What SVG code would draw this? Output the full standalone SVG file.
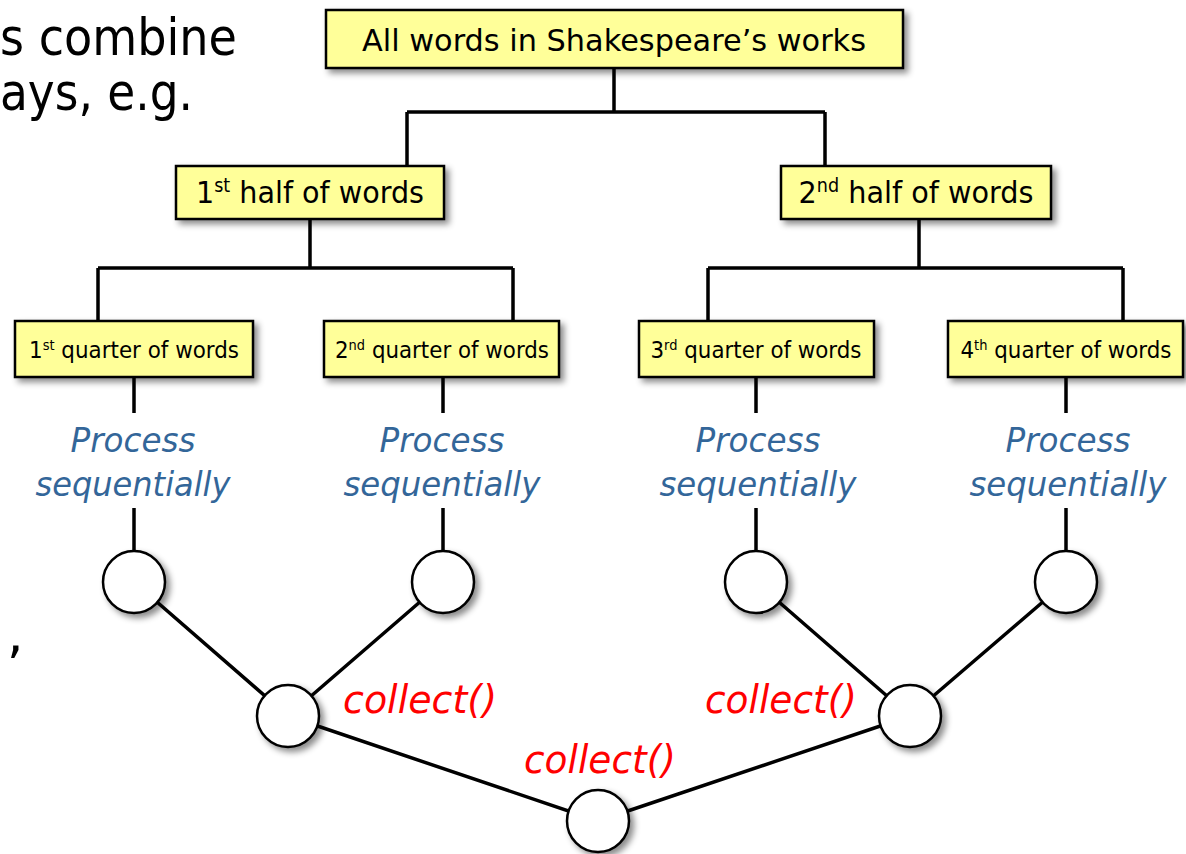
<svg xmlns="http://www.w3.org/2000/svg" width="1186" height="854" viewBox="0 0 1186 854">
  <defs>
    <filter id="shadow" x="-20%" y="-20%" width="140%" height="150%">
      <feDropShadow dx="4" dy="4" stdDeviation="3" flood-color="#000" flood-opacity="0.45"/>
    </filter>
    <style>
      .box { fill: #FFFF99; stroke: #000; stroke-width: 2.5; filter: url(#shadow); }
      .dot { fill: #fff; stroke: #000; stroke-width: 2.5; filter: url(#shadow); }
      .wire { fill: none; stroke: #000; stroke-width: 3.5; }
      .lbl { font-family: "DejaVu Sans", Verdana, sans-serif; fill: #000; text-anchor: middle; }
      .slide { font-family: "DejaVu Sans", Verdana, sans-serif; fill: #000; font-size: 52px; }
      .seq { font-family: "DejaVu Sans", Verdana, sans-serif; font-style: italic; fill: #336699; font-size: 34px; text-anchor: middle; }
      .op { font-family: "DejaVu Sans", Verdana, sans-serif; font-style: italic; fill: #FF0000; font-size: 39px; }
    </style>
  </defs>

  <rect width="1186" height="854" fill="#fff"/>

  <!-- partial slide text -->
  <text class="slide" x="0" y="55" textLength="237" lengthAdjust="spacingAndGlyphs">s combine</text>
  <text class="slide" x="0" y="110" textLength="193" lengthAdjust="spacingAndGlyphs">ays, e.g.</text>
  <text class="slide" x="7" y="652">,</text>

  <!-- connectors -->
  <g id="connectors" class="wire">
    <path d="M614 68 V112 M407 112 H825 M407 112 V166 M825 112 V166"/>
    <path d="M310 219 V268 M98 268 H513 M98 268 V321 M513 268 V321"/>
    <path d="M919 219 V268 M708 268 H1123 M708 268 V321 M1123 268 V321"/>
    <path d="M134 377 V413 M134 508 V551"/>
    <path d="M443 377 V413 M443 508 V551"/>
    <path d="M756 377 V413 M756 508 V551"/>
    <path d="M1066 377 V413 M1066 508 V551"/>
    <path d="M134 582 L288 716 M443 582 L288 716"/>
    <path d="M756 582 L910 716 M1066 582 L910 716"/>
    <path d="M288 716 L598 821 M910 716 L598 821"/>
  </g>

  <!-- split tree -->
  <g id="all-words">
    <rect class="box" x="326" y="10" width="577" height="58"/>
    <text class="lbl" x="614" y="51" font-size="31" textLength="504" lengthAdjust="spacingAndGlyphs">All words in Shakespeare’s works</text>
  </g>
  <g id="half-1">
    <rect class="box" x="176" y="166" width="268" height="53"/>
    <text class="lbl" x="310" y="203" font-size="31" textLength="228" lengthAdjust="spacingAndGlyphs">1<tspan font-size="19" dy="-11">st</tspan><tspan dy="11"> half of words</tspan></text>
  </g>
  <g id="half-2">
    <rect class="box" x="781" y="166" width="270" height="53"/>
    <text class="lbl" x="916" y="203" font-size="31" textLength="235" lengthAdjust="spacingAndGlyphs">2<tspan font-size="19" dy="-11">nd</tspan><tspan dy="11"> half of words</tspan></text>
  </g>
  <g id="quarter-1">
    <rect class="box" x="15" y="321" width="238" height="56"/>
    <text class="lbl" x="134" y="358" font-size="23" textLength="210" lengthAdjust="spacingAndGlyphs">1<tspan font-size="14" dy="-8">st</tspan><tspan dy="8"> quarter of words</tspan></text>
  </g>
  <g id="quarter-2">
    <rect class="box" x="324" y="321" width="235" height="56"/>
    <text class="lbl" x="442" y="358" font-size="23" textLength="214" lengthAdjust="spacingAndGlyphs">2<tspan font-size="14" dy="-8">nd</tspan><tspan dy="8"> quarter of words</tspan></text>
  </g>
  <g id="quarter-3">
    <rect class="box" x="639" y="321" width="235" height="56"/>
    <text class="lbl" x="756" y="358" font-size="23" textLength="211" lengthAdjust="spacingAndGlyphs">3<tspan font-size="14" dy="-8">rd</tspan><tspan dy="8"> quarter of words</tspan></text>
  </g>
  <g id="quarter-4">
    <rect class="box" x="948" y="321" width="235" height="56"/>
    <text class="lbl" x="1066" y="358" font-size="23" textLength="211" lengthAdjust="spacingAndGlyphs">4<tspan font-size="14" dy="-8">th</tspan><tspan dy="8"> quarter of words</tspan></text>
  </g>

  <!-- sequential work labels -->
  <g id="seq-1">
    <text class="seq" x="133" y="452" textLength="125" lengthAdjust="spacingAndGlyphs">Process</text>
    <text class="seq" x="133" y="496" textLength="195" lengthAdjust="spacingAndGlyphs">sequentially</text>
  </g>
  <g id="seq-2">
    <text class="seq" x="442" y="452" textLength="125" lengthAdjust="spacingAndGlyphs">Process</text>
    <text class="seq" x="442" y="496" textLength="197" lengthAdjust="spacingAndGlyphs">sequentially</text>
  </g>
  <g id="seq-3">
    <text class="seq" x="758" y="452" textLength="125" lengthAdjust="spacingAndGlyphs">Process</text>
    <text class="seq" x="758" y="496" textLength="197" lengthAdjust="spacingAndGlyphs">sequentially</text>
  </g>
  <g id="seq-4">
    <text class="seq" x="1068" y="452" textLength="125" lengthAdjust="spacingAndGlyphs">Process</text>
    <text class="seq" x="1068" y="496" textLength="197" lengthAdjust="spacingAndGlyphs">sequentially</text>
  </g>

  <!-- combine tree -->
  <g id="leaf-1"><circle class="dot" cx="134" cy="582" r="31"/></g>
  <g id="leaf-2"><circle class="dot" cx="443" cy="582" r="31"/></g>
  <g id="leaf-3"><circle class="dot" cx="756" cy="582" r="31"/></g>
  <g id="leaf-4"><circle class="dot" cx="1066" cy="582" r="31"/></g>
  <g id="merge-left"><circle class="dot" cx="288" cy="716" r="31"/></g>
  <g id="merge-right"><circle class="dot" cx="910" cy="716" r="31"/></g>
  <g id="merge-root"><circle class="dot" cx="598" cy="821" r="31"/></g>

  <!-- combine operations -->
  <g id="collect-labels">
    <text class="op" x="343" y="713" textLength="154" lengthAdjust="spacingAndGlyphs">collect()</text>
    <text class="op" x="705" y="713" textLength="152" lengthAdjust="spacingAndGlyphs">collect()</text>
    <text class="op" x="524" y="773" textLength="152" lengthAdjust="spacingAndGlyphs">collect()</text>
  </g>
</svg>
